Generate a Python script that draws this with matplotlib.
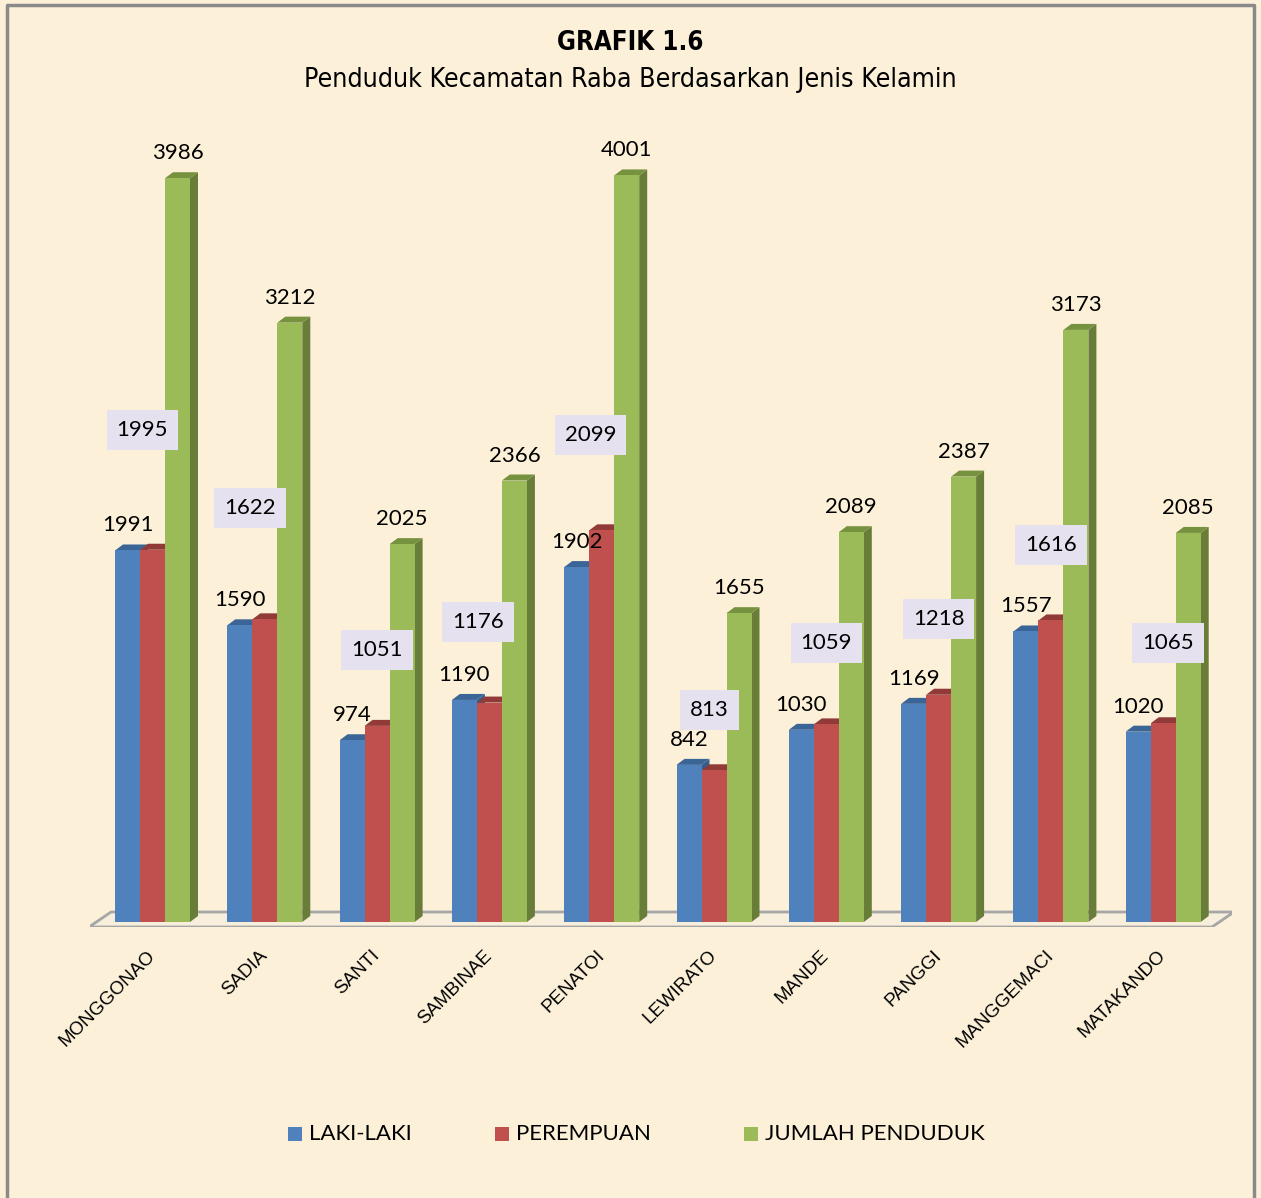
import numpy as np
import matplotlib.pyplot as plt
from matplotlib.patches import Polygon, Rectangle
from matplotlib.lines import Line2D

# data ==============================================================
desa = ['MONGGONAO', 'SADIA', 'SANTI', 'SAMBINAE', 'PENATOI',
        'LEWIRATO', 'MANDE', 'PANGGI', 'MANGGEMACI', 'MATAKANDO']
laki = [1991, 1590, 974, 1190, 1902, 842, 1030, 1169, 1557, 1020]
perempuan = [1995, 1622, 1051, 1176, 2099, 813, 1059, 1218, 1616, 1065]
jumlah = [3986, 3212, 2025, 2366, 4001, 1655, 2089, 2387, 3173, 2085]
seri = ['LAKI-LAKI', 'PEREMPUAN', 'JUMLAH PENDUDUK']

# posisi label perempuan (ditarik manual di grafik asli)
label_pr_y = [2637, 2219, 1458, 1608, 2610, 1136, 1495, 1624, 2020, 1495]
label_pr_dx = [-0.09, -0.13, 0.0, -0.10, -0.10, -0.04, 0.0, 0.0, 0.0, 0.04]

# warna: depan, atas, samping
warna = [('#4f81bd', '#3b6596', '#385d8a'),
         ('#c0504d', '#913a37', '#8c3836'),
         ('#9bbb59', '#77923f', '#687d38')]

W, H = 1261, 1198
bg = '#fcf1d8'
fig = plt.figure(figsize=(W / 100, H / 100), dpi=100, facecolor=bg)

# skala piksel
px_x = 112.3    # piksel per kelompok
px_y = 0.1866   # piksel per jiwa
base_px = 922
left_px, right_px, bot_px, top_px = 90, 1232, 927, 130
ax = fig.add_axes([left_px / W, (H - bot_px) / H,
                   (right_px - left_px) / W, (bot_px - top_px) / H])
ax.set_xlim((left_px - 152.5) / px_x, (right_px - 152.5) / px_x)
ax.set_ylim(-(bot_px - base_px) / px_y, (base_px - top_px) / px_y)
ax.axis('off')
ax.patch.set_alpha(0)

w = 25 / px_x
dx, dy = 8 / px_x, 6 / px_y

# lantai 3D
fx0, fx1 = (89 - 152.5) / px_x, (1212 - 152.5) / px_x
fdx, fdy = 22 / px_x, 15 / px_y
floor_y = -(927 - base_px) / px_y
ax.add_patch(Polygon([(fx0, floor_y), (fx1, floor_y), (fx1 + fdx, floor_y + fdy),
                      (fx0 + fdx, floor_y + fdy)], closed=True, facecolor='#f7eedb',
                     edgecolor='#a6a6a6', lw=2, zorder=1))

x = np.arange(len(desa))
nilai = [laki, perempuan, jumlah]
for i in x:
    for j, vals in enumerate(nilai):
        h = vals[i]
        x0 = i + (j - 1.5) * w
        c_front, c_top, c_side = warna[j]
        z = 2 + j
        ax.add_patch(Polygon([(x0 + w, 0), (x0 + w + dx, dy), (x0 + w + dx, h + dy),
                              (x0 + w, h)], closed=True, facecolor=c_side, lw=0, zorder=z))
        ax.add_patch(Polygon([(x0, h), (x0 + w, h), (x0 + w + dx, h + dy), (x0 + dx, h + dy)],
                             closed=True, facecolor=c_top, lw=0, zorder=z))
        ax.add_patch(Rectangle((x0, 0), w, h, facecolor=c_front, lw=0, zorder=z))

lab_font = dict(family=['Lato', 'DejaVu Sans'], fontsize=16, color='black')
for i in x:
    ax.annotate(str(laki[i]), (i - w, laki[i]), xytext=(0, 18), textcoords='offset points',
                ha='center', va='center', zorder=10, **lab_font)
    ax.annotate(str(jumlah[i]), (i + w, jumlah[i]), xytext=(0, 18), textcoords='offset points',
                ha='center', va='center', zorder=10, **lab_font)
    ax.text(i + label_pr_dx[i], label_pr_y[i], str(perempuan[i]), ha='center', va='center',
            zorder=10, bbox=dict(boxstyle='square,pad=0.45', facecolor='#e5e1ef', edgecolor='none'),
            **lab_font)
    ax.text(i, -(953 - base_px) / px_y, desa[i], rotation=45, rotation_mode='anchor',
            ha='right', va='center', fontsize=13.5, family=['Liberation Sans', 'DejaVu Sans'],
            clip_on=False)

# judul
narrow = ['DejaVu Sans']
fig.text(630 / W, 1 - 43 / H, 'GRAFIK 1.6', ha='center', va='center', fontsize=18.5,
         fontweight='bold', family=narrow, fontstretch='condensed')
fig.text(630 / W, 1 - 80 / H, 'Penduduk Kecamatan Raba Berdasarkan Jenis Kelamin',
         ha='center', va='center', fontsize=19.2, family=narrow, fontstretch='condensed')

# legenda
leg_x = [288, 495, 744]
for k, nama in enumerate(seri):
    fig.patches.append(Rectangle((leg_x[k] / W, 1 - 1141 / H), 14 / W, 14 / H,
                                 facecolor=warna[k][0], lw=0, transform=fig.transFigure))
    fig.text((leg_x[k] + 21) / W, 1 - 1134 / H, nama, ha='left', va='center',
             fontsize=16, family=['Lato', 'DejaVu Sans'])

# bingkai (tanpa sisi bawah)
bx0, bx1, by = 7 / W, 1254 / W, 1 - 5 / H
fig.lines.append(Line2D([bx0, bx0, bx1, bx1], [0, by, by, 0], color='#8a8a8a', lw=2.5,
                        transform=fig.transFigure))

fig.savefig('out.png', dpi=100, facecolor=bg)
